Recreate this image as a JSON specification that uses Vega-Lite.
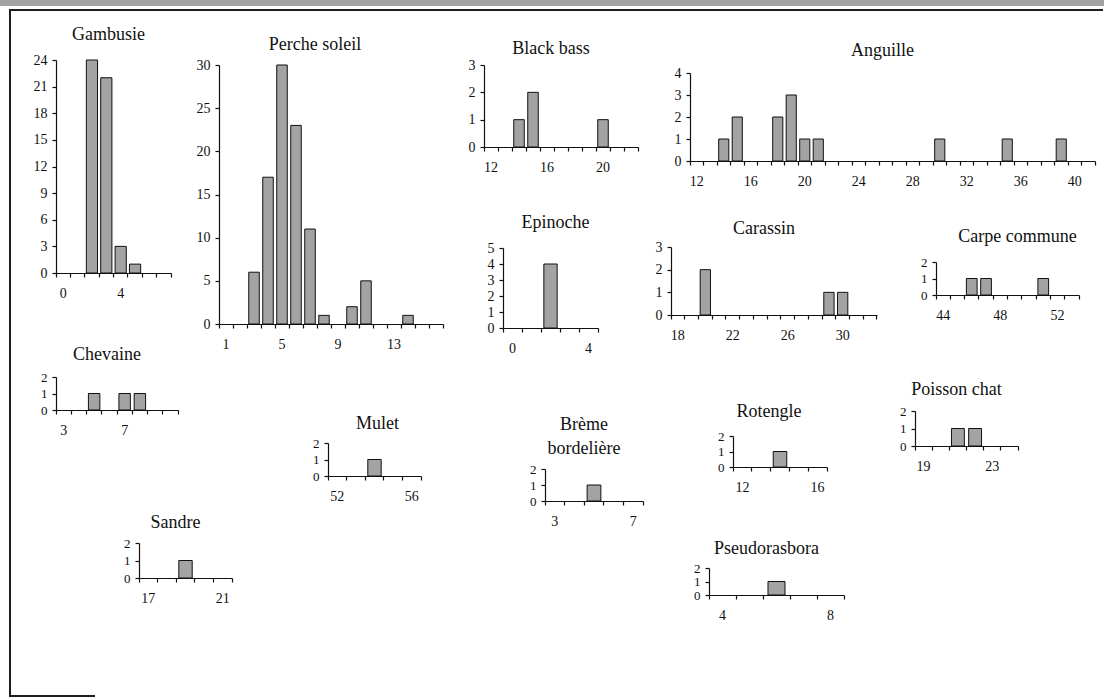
{
"$schema": "https://vega.github.io/schema/vega-lite/v6.json",
"padding": 0,
"background": "white",
"datasets": {"fish": [
{"species":"Gambusie","length":2,"count":24},{"species":"Gambusie","length":3,"count":22},{"species":"Gambusie","length":4,"count":3},{"species":"Gambusie","length":5,"count":1},
{"species":"Perche soleil","length":3,"count":6},{"species":"Perche soleil","length":4,"count":17},{"species":"Perche soleil","length":5,"count":30},{"species":"Perche soleil","length":6,"count":23},{"species":"Perche soleil","length":7,"count":11},{"species":"Perche soleil","length":8,"count":1},{"species":"Perche soleil","length":10,"count":2},{"species":"Perche soleil","length":11,"count":5},{"species":"Perche soleil","length":14,"count":1},
{"species":"Black bass","length":14,"count":1},{"species":"Black bass","length":15,"count":2},{"species":"Black bass","length":20,"count":1},
{"species":"Anguille","length":14,"count":1},{"species":"Anguille","length":15,"count":2},{"species":"Anguille","length":18,"count":2},{"species":"Anguille","length":19,"count":3},{"species":"Anguille","length":20,"count":1},{"species":"Anguille","length":21,"count":1},{"species":"Anguille","length":30,"count":1},{"species":"Anguille","length":35,"count":1},{"species":"Anguille","length":39,"count":1},
{"species":"Epinoche","length":2,"count":4},
{"species":"Carassin","length":20,"count":2},{"species":"Carassin","length":29,"count":1},{"species":"Carassin","length":30,"count":1},
{"species":"Carpe commune","length":46,"count":1},{"species":"Carpe commune","length":47,"count":1},{"species":"Carpe commune","length":51,"count":1},
{"species":"Chevaine","length":5,"count":1},{"species":"Chevaine","length":7,"count":1},{"species":"Chevaine","length":8,"count":1},
{"species":"Mulet","length":54,"count":1},
{"species":"Sandre","length":19,"count":1},
{"species":"Brème bordelière","length":5,"count":1},
{"species":"Rotengle","length":14,"count":1},
{"species":"Poisson chat","length":21,"count":1},{"species":"Poisson chat","length":22,"count":1},
{"species":"Pseudorasbora","length":6,"count":1}
]},
"spacing": 0,
"bounds": "flush",
"vconcat": [
{"width":1104,"height":6,"data":{"values":[]},"mark":"point","view":{"fill":"#a2a2a2","stroke":null}},
{"width":1,"height":3,"data":{"values":[]},"mark":"point"},
{"spacing":0,"bounds":"flush","hconcat":[
 {"width":9,"height":1,"data":{"values":[]},"mark":"point"},
 {"width":1094,"height":2,"data":{"values":[]},"mark":"point","view":{"fill":"#1e1e1e","stroke":null}}
]},
{"spacing":0,"bounds":"flush","hconcat":[
 {"width":9,"height":1,"data":{"values":[]},"mark":"point"},
 {"width":2,"height":687,"data":{"values":[]},"mark":"point","view":{"fill":"#1e1e1e","stroke":null}}
]},
{"width":1,"height":51,"data":{"values":[]},"mark":"point"},
{"spacing":0,"bounds":"flush","hconcat":[
 {"width":56,"height":1,"data":{"values":[]},"mark":"point"},
 {"width":115,"height":213,"data":{"name":"fish"},"title":{"text":"Gambusie","dx":-5,"offset":9},"transform":[{"filter":"datum.species === 'Gambusie'"}],"mark":{"type":"bar","width":{"band":0.78},"fill":"#a3a3a3","stroke":"#111","strokeWidth":1},"encoding":{"x":{"field":"length","type":"ordinal","title":null,"scale":{"domain":[0,1,2,3,4,5,6,7],"paddingInner":0,"paddingOuter":0},"axis":{"bandPosition":1,"tickExtra":true,"labelExpr":"datum.value % 4 === 0 ? datum.label : ''"}},"y":{"field":"count","type":"quantitative","title":null,"scale":{"domain":[0,24],"nice":false},"axis":{"values":[0,3,6,9,12,15,18,21,24],"tickCount":9,"format":"d","labelOverlap":false}}}}
]},
{"width":1,"height":5,"data":{"values":[]},"mark":"point"},
{"spacing":0,"bounds":"flush","hconcat":[
 {"width":219,"height":1,"data":{"values":[]},"mark":"point"},
 {"width":224,"height":259,"data":{"name":"fish"},"title":{"text":"Perche soleil","dx":-16,"offset":4},"transform":[{"filter":"datum.species === 'Perche soleil'"}],"mark":{"type":"bar","width":{"band":0.75},"fill":"#a3a3a3","stroke":"#111","strokeWidth":1},"encoding":{"x":{"field":"length","type":"ordinal","title":null,"scale":{"domain":[1,2,3,4,5,6,7,8,9,10,11,12,13,14,15,16],"paddingInner":0,"paddingOuter":0},"axis":{"bandPosition":1,"tickExtra":true,"labelExpr":"(datum.value - 1) % 4 === 0 ? datum.label : ''"}},"y":{"field":"count","type":"quantitative","title":null,"scale":{"domain":[0,30],"nice":false},"axis":{"values":[0,5,10,15,20,25,30],"tickCount":7,"format":"d","labelOverlap":false}}}}
]},
{"spacing":0,"bounds":"flush","hconcat":[
 {"width":484,"height":1,"data":{"values":[]},"mark":"point"},
 {"width":154,"height":82,"data":{"name":"fish"},"title":{"text":"Black bass","dx":-10,"offset":0},"transform":[{"filter":"datum.species === 'Black bass'"}],"mark":{"type":"bar","width":{"band":0.75},"fill":"#a3a3a3","stroke":"#111","strokeWidth":1},"encoding":{"x":{"field":"length","type":"ordinal","title":null,"scale":{"domain":[12,13,14,15,16,17,18,19,20,21,22],"paddingInner":0,"paddingOuter":0},"axis":{"bandPosition":1,"tickExtra":true,"labelExpr":"(datum.value - 12) % 4 === 0 ? datum.label : ''"}},"y":{"field":"count","type":"quantitative","title":null,"scale":{"domain":[0,3],"nice":false},"axis":{"values":[0,1,2,3],"tickCount":4,"format":"d","labelOverlap":false}}}}
]},
{"width":1,"height":8,"data":{"values":[]},"mark":"point"},
{"spacing":0,"bounds":"flush","hconcat":[
 {"width":690,"height":1,"data":{"values":[]},"mark":"point"},
 {"width":405,"height":88,"data":{"name":"fish"},"title":{"text":"Anguille","dx":-10,"offset":6},"transform":[{"filter":"datum.species === 'Anguille'"}],"mark":{"type":"bar","width":{"band":0.75},"fill":"#a3a3a3","stroke":"#111","strokeWidth":1},"encoding":{"x":{"field":"length","type":"ordinal","title":null,"scale":{"domain":[12,13,14,15,16,17,18,19,20,21,22,23,24,25,26,27,28,29,30,31,32,33,34,35,36,37,38,39,40,41],"paddingInner":0,"paddingOuter":0},"axis":{"bandPosition":1,"tickExtra":true,"labelExpr":"(datum.value - 12) % 4 === 0 ? datum.label : ''"}},"y":{"field":"count","type":"quantitative","title":null,"scale":{"domain":[0,4],"nice":false},"axis":{"values":[0,1,2,3,4],"tickCount":5,"format":"d","labelOverlap":false}}}}
]},
{"width":1,"height":174,"data":{"values":[]},"mark":"point"},
{"spacing":0,"bounds":"flush","hconcat":[
 {"width":671,"height":1,"data":{"values":[]},"mark":"point"},
 {"width":206,"height":68,"data":{"name":"fish"},"title":{"text":"Carassin","dx":-10,"offset":2},"transform":[{"filter":"datum.species === 'Carassin'"}],"mark":{"type":"bar","width":{"band":0.75},"fill":"#a3a3a3","stroke":"#111","strokeWidth":1},"encoding":{"x":{"field":"length","type":"ordinal","title":null,"scale":{"domain":[18,19,20,21,22,23,24,25,26,27,28,29,30,31,32],"paddingInner":0,"paddingOuter":0},"axis":{"bandPosition":1,"tickExtra":true,"labelExpr":"(datum.value - 18) % 4 === 0 ? datum.label : ''"}},"y":{"field":"count","type":"quantitative","title":null,"scale":{"domain":[0,3],"nice":false},"axis":{"values":[0,1,2,3],"tickCount":4,"format":"d","labelOverlap":false}}}}
]},
{"width":1,"height":1,"data":{"values":[]},"mark":"point"},
{"spacing":0,"bounds":"flush","hconcat":[
 {"width":503,"height":1,"data":{"values":[]},"mark":"point"},
 {"width":95,"height":80,"data":{"name":"fish"},"title":{"text":"Epinoche","dx":5,"offset":9},"transform":[{"filter":"datum.species === 'Epinoche'"}],"mark":{"type":"bar","width":{"band":0.7},"fill":"#a3a3a3","stroke":"#111","strokeWidth":1},"encoding":{"x":{"field":"length","type":"ordinal","title":null,"scale":{"domain":[0,1,2,3,4],"paddingInner":0,"paddingOuter":0},"axis":{"bandPosition":1,"tickExtra":true,"labelExpr":"datum.value % 4 === 0 ? datum.label : ''"}},"y":{"field":"count","type":"quantitative","title":null,"scale":{"domain":[0,5],"nice":false},"axis":{"values":[0,1,2,3,4,5],"tickCount":6,"format":"d","labelOverlap":false}}}}
]},
{"width":1,"height":14,"data":{"values":[]},"mark":"point"},
{"spacing":0,"bounds":"flush","hconcat":[
 {"width":936,"height":1,"data":{"values":[]},"mark":"point"},
 {"width":143,"height":33,"data":{"name":"fish"},"title":{"text":"Carpe commune","dx":10,"offset":10},"transform":[{"filter":"datum.species === 'Carpe commune'"}],"mark":{"type":"bar","width":{"band":0.75},"fill":"#a3a3a3","stroke":"#111","strokeWidth":1},"encoding":{"x":{"field":"length","type":"ordinal","title":null,"scale":{"domain":[44,45,46,47,48,49,50,51,52,53],"paddingInner":0,"paddingOuter":0},"axis":{"bandPosition":1,"tickExtra":true,"labelExpr":"(datum.value - 44) % 4 === 0 ? datum.label : ''"}},"y":{"field":"count","type":"quantitative","title":null,"scale":{"domain":[0,2],"nice":false},"axis":{"tickCount":2,"format":"d","labelOverlap":false,"labelFontSize":13}}}}
]},
{"width":1,"height":115,"data":{"values":[]},"mark":"point"},
{"spacing":0,"bounds":"flush","hconcat":[
 {"width":56,"height":1,"data":{"values":[]},"mark":"point"},
 {"width":122,"height":33,"data":{"name":"fish"},"title":{"text":"Chevaine","dx":-10,"offset":7},"transform":[{"filter":"datum.species === 'Chevaine'"}],"mark":{"type":"bar","width":{"band":0.75},"fill":"#a3a3a3","stroke":"#111","strokeWidth":1},"encoding":{"x":{"field":"length","type":"ordinal","title":null,"scale":{"domain":[3,4,5,6,7,8,9,10],"paddingInner":0,"paddingOuter":0},"axis":{"bandPosition":1,"tickExtra":true,"labelExpr":"(datum.value - 3) % 4 === 0 ? datum.label : ''"}},"y":{"field":"count","type":"quantitative","title":null,"scale":{"domain":[0,2],"nice":false},"axis":{"tickCount":2,"format":"d","labelOverlap":false,"labelFontSize":13}}}}
]},
{"width":1,"height":34,"data":{"values":[]},"mark":"point"},
{"spacing":0,"bounds":"flush","hconcat":[
 {"width":915,"height":1,"data":{"values":[]},"mark":"point"},
 {"width":103,"height":35,"data":{"name":"fish"},"title":{"text":"Poisson chat","dx":-10,"offset":6},"transform":[{"filter":"datum.species === 'Poisson chat'"}],"mark":{"type":"bar","width":{"band":0.75},"fill":"#a3a3a3","stroke":"#111","strokeWidth":1},"encoding":{"x":{"field":"length","type":"ordinal","title":null,"scale":{"domain":[19,20,21,22,23,24],"paddingInner":0,"paddingOuter":0},"axis":{"bandPosition":1,"tickExtra":true,"labelExpr":"(datum.value - 19) % 4 === 0 ? datum.label : ''"}},"y":{"field":"count","type":"quantitative","title":null,"scale":{"domain":[0,2],"nice":false},"axis":{"tickCount":2,"format":"d","labelOverlap":false,"labelFontSize":13}}}}
]},
{"width":1,"height":25,"data":{"values":[]},"mark":"point"},
{"spacing":0,"bounds":"flush","hconcat":[
 {"width":733,"height":1,"data":{"values":[]},"mark":"point"},
 {"width":94,"height":31,"data":{"name":"fish"},"title":{"text":"Rotengle","dx":-11,"offset":9},"transform":[{"filter":"datum.species === 'Rotengle'"}],"mark":{"type":"bar","width":{"band":0.72},"fill":"#a3a3a3","stroke":"#111","strokeWidth":1},"encoding":{"x":{"field":"length","type":"ordinal","title":null,"scale":{"domain":[12,13,14,15,16],"paddingInner":0,"paddingOuter":0},"axis":{"bandPosition":1,"tickExtra":true,"labelExpr":"(datum.value - 12) % 4 === 0 ? datum.label : ''"}},"y":{"field":"count","type":"quantitative","title":null,"scale":{"domain":[0,2],"nice":false},"axis":{"tickCount":2,"format":"d","labelOverlap":false,"labelFontSize":13}}}}
]},
{"width":1,"height":7,"data":{"values":[]},"mark":"point"},
{"spacing":0,"bounds":"flush","hconcat":[
 {"width":328,"height":1,"data":{"values":[]},"mark":"point"},
 {"width":93,"height":33,"data":{"name":"fish"},"title":{"text":"Mulet","dx":3,"offset":4},"transform":[{"filter":"datum.species === 'Mulet'"}],"mark":{"type":"bar","width":{"band":0.72},"fill":"#a3a3a3","stroke":"#111","strokeWidth":1},"encoding":{"x":{"field":"length","type":"ordinal","title":null,"scale":{"domain":[52,53,54,55,56],"paddingInner":0,"paddingOuter":0},"axis":{"bandPosition":1,"tickExtra":true,"labelExpr":"(datum.value - 52) % 4 === 0 ? datum.label : ''"}},"y":{"field":"count","type":"quantitative","title":null,"scale":{"domain":[0,2],"nice":false},"axis":{"tickCount":2,"format":"d","labelOverlap":false,"labelFontSize":13}}}}
]},
{"width":1,"height":26,"data":{"values":[]},"mark":"point"},
{"spacing":0,"bounds":"flush","hconcat":[
 {"width":545,"height":1,"data":{"values":[]},"mark":"point"},
 {"width":98,"height":32,"data":{"name":"fish"},"title":{"text":["Brème","bordelière"],"dx":-10,"offset":5},"transform":[{"filter":"datum.species === 'Brème bordelière'"}],"mark":{"type":"bar","width":{"band":0.7},"fill":"#a3a3a3","stroke":"#111","strokeWidth":1},"encoding":{"x":{"field":"length","type":"ordinal","title":null,"scale":{"domain":[3,4,5,6,7],"paddingInner":0,"paddingOuter":0},"axis":{"bandPosition":1,"tickExtra":true,"labelExpr":"(datum.value - 3) % 4 === 0 ? datum.label : ''"}},"y":{"field":"count","type":"quantitative","title":null,"scale":{"domain":[0,2],"nice":false},"axis":{"tickCount":2,"format":"d","labelOverlap":false,"labelFontSize":13}}}}
]},
{"width":1,"height":74,"data":{"values":[]},"mark":"point"},
{"spacing":0,"bounds":"flush","hconcat":[
 {"width":139,"height":1,"data":{"values":[]},"mark":"point"},
 {"width":93,"height":35,"data":{"name":"fish"},"title":{"text":"Sandre","dx":-10,"offset":5},"transform":[{"filter":"datum.species === 'Sandre'"}],"mark":{"type":"bar","width":{"band":0.72},"fill":"#a3a3a3","stroke":"#111","strokeWidth":1},"encoding":{"x":{"field":"length","type":"ordinal","title":null,"scale":{"domain":[17,18,19,20,21],"paddingInner":0,"paddingOuter":0},"axis":{"bandPosition":1,"tickExtra":true,"labelExpr":"(datum.value - 17) % 4 === 0 ? datum.label : ''"}},"y":{"field":"count","type":"quantitative","title":null,"scale":{"domain":[0,2],"nice":false},"axis":{"tickCount":2,"format":"d","labelOverlap":false,"labelFontSize":13}}}}
]},
{"width":1,"height":25,"data":{"values":[]},"mark":"point"},
{"spacing":0,"bounds":"flush","hconcat":[
 {"width":709,"height":1,"data":{"values":[]},"mark":"point"},
 {"width":135,"height":27,"data":{"name":"fish"},"title":{"text":"Pseudorasbora","dx":-10,"offset":4},"transform":[{"filter":"datum.species === 'Pseudorasbora'"}],"mark":{"type":"bar","width":{"band":0.63},"fill":"#a3a3a3","stroke":"#111","strokeWidth":1},"encoding":{"x":{"field":"length","type":"ordinal","title":null,"scale":{"domain":[4,5,6,7,8],"paddingInner":0,"paddingOuter":0},"axis":{"bandPosition":1,"tickExtra":true,"labelExpr":"(datum.value - 4) % 4 === 0 ? datum.label : ''"}},"y":{"field":"count","type":"quantitative","title":null,"scale":{"domain":[0,2],"nice":false},"axis":{"tickCount":2,"format":"d","labelOverlap":false,"labelFontSize":13}}}}
]},
{"width":1,"height":127,"data":{"values":[]},"mark":"point"},
{"spacing":0,"bounds":"flush","hconcat":[
 {"width":9,"height":1,"data":{"values":[]},"mark":"point"},
 {"width":86,"height":2,"data":{"values":[]},"mark":"point","view":{"fill":"#1e1e1e","stroke":null}}
]}
],
"config": {
 "view": {"stroke": null},
 "concat": {"spacing": 0},
 "font": "Liberation Serif",
 "title": {"font": "Liberation Serif", "fontSize": 18, "fontWeight": "normal", "color": "#111", "baseline": "middle", "frame": "group", "anchor": "middle", "lineHeight": 24},
 "axis": {"labelFont": "Liberation Serif", "labelFontSize": 14, "labelColor": "#111", "domainColor": "#111", "tickColor": "#111", "grid": false, "labelOverlap": false, "labelFlush": false, "tickSize": 4, "domainWidth": 1.2, "tickWidth": 1.2},
 "axisX": {"labelAngle": 0, "labelPadding": 9},
 "axisY": {"labelPadding": 5}
}
}
